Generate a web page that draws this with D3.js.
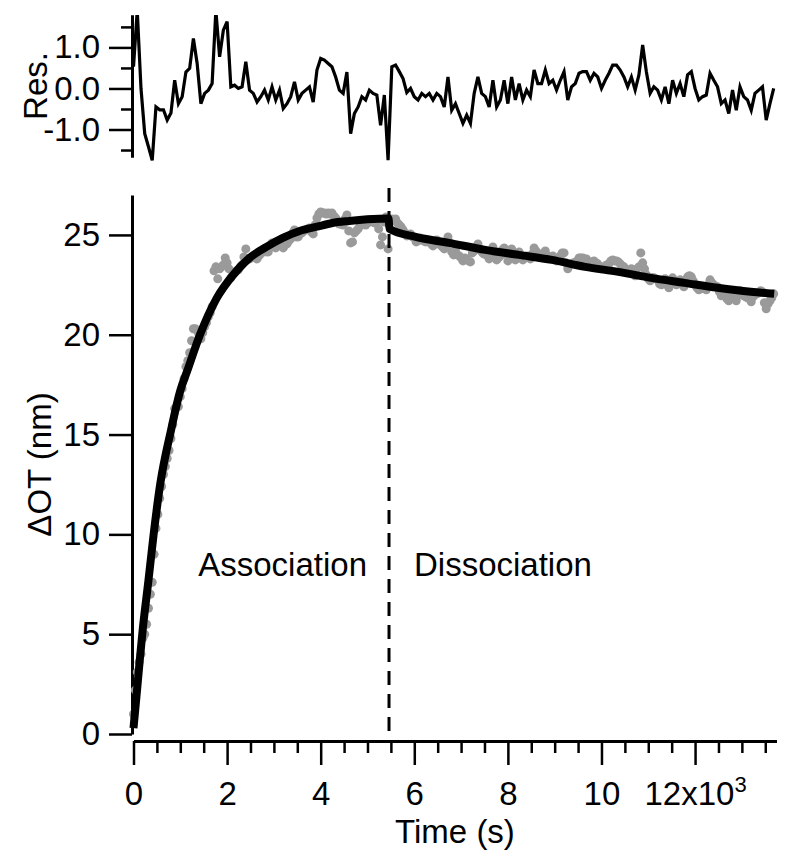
<!DOCTYPE html>
<html>
<head>
<meta charset="utf-8">
<script src="https://cdn.jsdelivr.net/npm/d3@7"></script>
<style>
body { margin: 0; background: #fff; }
svg text { font-family: "Liberation Sans", Arial, Helvetica, sans-serif; fill: #000; }
</style>
</head>
<body>
<div id="chart"></div>
<script>
// measured optical thickness, one point every dataStep seconds
var dataStep = 40;
var dataNm = [
  1.0, 2.2, 3.1, 3.6, 4.0, 4.8, 5.0, 5.5, 6.3, 7.0,            // 0
  7.6, 9.0, 10.3, 11.0, 11.8, 12.4, 13.0, 13.4, 13.8, 14.2,    // 400
  14.8, 15.5, 16.3, 16.4, 16.4, 16.9, 17.3, 17.8, 18.4, 18.7,  // 800
  19.1, 19.7, 20.3, 20.3, 20.2, 20.0, 19.8, 20.1, 20.4, 20.6,  // 1200
  20.9, 21.1, 21.4, 23.2, 23.4, 22.8, 23.3, 23.4, 23.5, 23.85, // 1600
  23.6, 23.3, 22.85, 23.0, 23.1, 23.2, 23.25, 23.4, 23.5, 23.9, // 2000
  24.3, 23.8, 23.8, 23.85, 23.9, 23.85, 23.8, 23.95, 24.05, 24.2, // 2400
  24.3, 24.15, 24.15, 24.45, 24.6, 24.4, 24.35, 24.6, 24.7, 24.5, // 2800
  24.35, 24.5, 24.55, 24.7, 24.8, 25.1, 25.25, 24.9, 24.9, 25.05, // 3200
  25.1, 25.2, 25.25, 25.3, 25.35, 25.15, 25.05, 25.5, 25.85, 26.05, // 3600
  26.15, 26.1, 26.1, 26.05, 26.1, 26.05, 26.1, 25.95, 25.85, 25.7, // 4000
  25.55, 25.55, 25.5, 25.8, 26.0, 25.2, 24.6, 24.65, 25.1, 25.2,   // 4400
  25.3, 25.45, 25.55, 25.55, 25.5, 25.6, 25.75, 25.75, 25.65, 25.6, // 4800
  25.65, 25.3, 24.5, 24.9, 25.65, 25.9, 24.3, 25.7, 25.8, 25.75,   // 5200
  25.8, 25.6, 25.5, 25.4, 25.25, 25.1, 24.95, 25.0, 25.05, 24.9,   // 5600
  24.85, 24.65, 24.7, 24.85, 24.75, 24.7, 24.65, 24.75, 24.7, 24.55, // 6000
  24.45, 24.6, 24.75, 24.55, 24.5, 24.4, 24.3, 24.45, 24.9, 24.6,  // 6400
  24.15, 24.0, 24.25, 24.0, 23.95, 23.85, 23.7, 23.85, 23.8, 23.7, // 6800
  23.65, 24.1, 24.2, 24.4, 24.55, 24.3, 24.15, 24.05, 24.05, 23.95, // 7200
  23.8, 24.1, 24.4, 24.05, 23.75, 23.85, 23.95, 24.25, 24.35, 24.05, // 7600
  23.7, 23.95, 24.3, 24.1, 23.75, 23.9, 24.15, 24.0, 23.75, 23.85,  // 8000
  23.95, 23.9, 23.8, 24.05, 24.35, 24.2, 23.95, 23.9, 23.95, 24.1,  // 8400
  24.2, 23.95, 23.85, 23.9, 23.95, 23.8, 23.7, 23.85, 23.95, 24.1,  // 8800
  24.1, 23.6, 23.3, 23.5, 23.55, 23.6, 23.6, 23.7, 23.85, 23.85,    // 9200
  23.85, 23.8, 23.8, 23.6, 23.55, 23.65, 23.7, 23.6, 23.55, 23.4,   // 9600
  23.3, 23.35, 23.45, 23.5, 23.55, 23.7, 23.75, 23.7, 23.7, 23.65,  // 10000
  23.55, 23.45, 23.4, 23.2, 23.1, 23.25, 23.3, 23.1, 22.95, 23.3,   // 10400
  23.4, 24.1, 23.6, 23.3, 23.0, 22.8, 22.7, 22.85, 22.85, 22.8,     // 10800
  22.75, 22.55, 22.5, 22.7, 22.8, 22.5, 22.35, 22.6, 22.85, 22.6,   // 11200
  22.5, 22.65, 22.75, 22.55, 22.4, 22.75, 22.9, 22.95, 22.9, 22.7,  // 11600
  22.5, 22.35, 22.25, 22.3, 22.35, 22.3, 22.25, 22.5, 22.75, 22.6,  // 12000
  22.5, 22.4, 22.4, 22.15, 21.95, 22.05, 22.05, 21.8, 21.7, 22.0,   // 12400
  22.2, 21.8, 21.7, 22.0, 22.2, 22.05, 21.95, 21.9, 21.85, 21.8,    // 12800
  21.65, 21.9, 22.0, 22.05, 22.1, 22.2, 22.15, 21.6, 21.3, 21.55,   // 13200
  21.7, 21.85, 22.05                                                 // 13600
];

// residuals of the fit, one every resStep seconds
var resStep = 80;
var residuals = [
  0.53, 1.9, 0.0, -1.1, -1.42, -1.75, -0.45, -0.52, -0.52, -0.77,   // 0
  -0.6, 0.2, -0.37, -0.2, 0.4, 0.49, 1.22, 0.61, -0.37, -0.12,      // 800
  -0.04, 0.12, 1.9, 0.77, 1.42, 1.63, 0.04, 0.08, 0.0, 0.04,        // 1600
  0.65, -0.04, -0.12, -0.33, -0.2, -0.04, -0.28, 0.04, -0.28, -0.04, // 2400
  -0.49, -0.37, -0.2, 0.16, -0.28, -0.12, -0.04, 0.04, -0.33, 0.45, // 3200
  0.73, 0.69, 0.61, 0.53, 0.28, -0.04, -0.12, 0.4, -1.1, -0.61,     // 4000
  -0.45, -0.2, -0.28, -0.04, -0.12, -0.16, -0.9, -0.16, -1.75, 0.53, // 4800
  0.57, 0.41, 0.24, -0.1, 0.0, -0.2, -0.28, -0.12, -0.2, -0.12,     // 5600
  -0.28, -0.12, -0.2, -0.45, 0.28, -0.53, -0.37, -0.61, -0.85, -0.65, // 6400
  -0.85, -0.12, 0.28, -0.12, -0.2, -0.45, 0.2, -0.45, -0.28, 0.2,   // 7200
  -0.37, 0.28, -0.28, 0.12, -0.28, -0.04, -0.2, 0.45, 0.12, 0.12,   // 8000
  0.45, 0.12, 0.2, -0.04, 0.2, 0.41, -0.28, 0.04, 0.12, 0.37,       // 8800
  0.41, 0.41, 0.2, 0.37, 0.28, 0.0, 0.2, 0.37, 0.57, 0.57,          // 9600
  0.45, 0.28, 0.04, 0.28, -0.04, 0.33, 1.06, 0.4, -0.12, 0.04,      // 10400
  -0.04, -0.28, 0.04, -0.37, 0.2, -0.12, 0.12, -0.2, 0.33, 0.41,    // 11200
  0.0, -0.28, -0.2, -0.16, 0.37, 0.2, 0.04, -0.37, -0.28, -0.61,    // 12000
  -0.04, -0.53, 0.04, -0.2, -0.28, -0.53, -0.12, -0.04, 0.04, -0.77, // 12800
  -0.37, 0.0                                                         // 13600
];

// fitted curve
var fitTimes = [0, 60, 130, 200, 320, 430, 570, 800, 1000, 1150,
  1420, 1770, 2130, 2480, 2840, 3190, 3550, 3900, 4250, 4610,
  5000, 5450, 5470, 6030, 6740, 7520, 8230, 8940, 9650, 10360,
  11060, 11770, 12480, 13190, 13690];
var fitNm = [0.3, 1.8, 3.6, 5.3, 7.7, 10.0, 12.5, 15.2, 17.2, 18.2,
  20.0, 21.8, 23.0, 23.85, 24.4, 24.85, 25.2, 25.4, 25.6, 25.7,
  25.78, 25.82, 25.3, 24.9, 24.6, 24.25, 24.0, 23.75, 23.4, 23.15,
  22.85, 22.6, 22.35, 22.15, 22.05];

var switchTime = 5460;
var phaseNames = ["Association", "Dissociation"];

var xTicks = [0, 2000, 4000, 6000, 8000, 10000, 12000];
var xTickLabels = ["0", "2", "4", "6", "8", "10", "12x10"];
var yTicks = [0, 5, 10, 15, 20, 25];
var resTicks = [-1, 0, 1];
var resTickLabels = ["-1.0", "0.0", "1.0"];

var width = 800, height = 866;
var fontSize = 33;

var svg = d3.select("#chart").append("svg")
  .attr("width", width)
  .attr("height", height);

svg.append("rect").attr("width", width).attr("height", height).attr("fill", "#fff");

var xScale = d3.scaleLinear().domain([0, 13740]).range([133.5, 776.5]);
var yScale = d3.scaleLinear().domain([0, 27]).range([734, 195]);
var rScale = d3.scaleLinear().domain([-1.67, 1.79]).range([157, 15]);

var axisLeftX = 132;
var xAxisY = 741;

function styleAxis(g) {
  g.select(".domain").attr("stroke", "#000").attr("stroke-width", 3);
  g.selectAll(".tick line").attr("stroke", "#000").attr("stroke-width", 2.5);
  g.selectAll(".tick text").attr("font-size", fontSize).attr("fill", "#000")
    .attr("font-family", '"Liberation Sans", Arial, sans-serif');
}

// ---- residual panel ----
svg.append("clipPath").attr("id", "resClip")
  .append("rect").attr("x", 110).attr("y", rScale.range()[1])
  .attr("width", 680).attr("height", 150);

var resAxis = svg.append("g")
  .attr("transform", "translate(" + axisLeftX + ",0)")
  .call(d3.axisLeft(rScale).tickValues(resTicks).tickSize(23).tickPadding(9).tickSizeOuter(0)
    .tickFormat(function(d, i) { return resTickLabels[i]; }));
styleAxis(resAxis);

var resMinor = svg.append("g")
  .attr("transform", "translate(" + axisLeftX + ",0)")
  .call(d3.axisLeft(rScale).tickValues([-1.5, -0.5, 0.5, 1.5]).tickSize(11).tickFormat("").tickSizeOuter(0));
styleAxis(resMinor);

var resLine = d3.line()
  .x(function(d, i) { return xScale(i * resStep); })
  .y(function(d) { return rScale(d); });

svg.append("path")
  .datum(residuals)
  .attr("clip-path", "url(#resClip)")
  .attr("fill", "none")
  .attr("stroke", "#000")
  .attr("stroke-width", 3.2)
  .attr("d", resLine);

svg.append("text")
  .attr("transform", "translate(47," + ((rScale.range()[0] + rScale.range()[1]) / 2) + ") rotate(-90)")
  .attr("text-anchor", "middle")
  .attr("font-size", fontSize)
  .text("Res.");

// ---- main panel ----
var yAxisG = svg.append("g")
  .attr("transform", "translate(" + axisLeftX + ",0)")
  .call(d3.axisLeft(yScale).tickValues(yTicks).tickSize(23).tickPadding(9).tickSizeOuter(0));
styleAxis(yAxisG);

var xAxisG = svg.append("g")
  .attr("transform", "translate(0," + xAxisY + ")")
  .call(d3.axisBottom(xScale).tickValues(xTicks).tickSize(24).tickPadding(17).tickSizeOuter(0)
    .tickFormat(function(d, i) { return xTickLabels[i]; }));
styleAxis(xAxisG);

xAxisG.selectAll(".tick text").filter(function(d) { return d === 12000; })
  .append("tspan").attr("dy", "-0.62em").attr("font-size", 22).text("3");

var minorX = d3.range(500, 13740, 500).filter(function(d) { return d % 2000 !== 0; });
var xMinorG = svg.append("g")
  .attr("transform", "translate(0," + xAxisY + ")")
  .call(d3.axisBottom(xScale).tickValues(minorX).tickSize(12).tickFormat("").tickSizeOuter(0));
styleAxis(xMinorG);
xMinorG.select(".domain").remove();

// data points
svg.append("g")
  .selectAll("circle")
  .data(dataNm)
  .enter().append("circle")
  .attr("cx", function(d, i) { return xScale(i * dataStep); })
  .attr("cy", function(d) { return yScale(d); })
  .attr("r", 4.5)
  .attr("fill", "#9a9a9a");

// fit
var fitLine = d3.line()
  .x(function(d) { return xScale(d[0]); })
  .y(function(d) { return yScale(d[1]); })
  .curve(d3.curveMonotoneX);

svg.append("path")
  .datum(d3.zip(fitTimes, fitNm))
  .attr("fill", "none")
  .attr("stroke", "#000")
  .attr("stroke-width", 8)
  .attr("d", fitLine);

// association / dissociation boundary
svg.append("line")
  .attr("x1", xScale(switchTime)).attr("x2", xScale(switchTime))
  .attr("y1", yScale.range()[1] - 7).attr("y2", xAxisY)
  .attr("stroke", "#000")
  .attr("stroke-width", 3)
  .attr("stroke-dasharray", "14,9");

var phaseY = yScale(7.9);
svg.append("text")
  .attr("x", xScale(switchTime) - 22).attr("y", phaseY)
  .attr("text-anchor", "end")
  .attr("font-size", fontSize)
  .text(phaseNames[0]);
svg.append("text")
  .attr("x", xScale(switchTime) + 25).attr("y", phaseY)
  .attr("text-anchor", "start")
  .attr("font-size", fontSize)
  .text(phaseNames[1]);

// axis titles
svg.append("text")
  .attr("transform", "translate(51," + ((yScale.range()[0] + yScale.range()[1]) / 2) + ") rotate(-90)")
  .attr("text-anchor", "middle")
  .attr("font-size", fontSize)
  .text("\u0394OT (nm)");

svg.append("text")
  .attr("x", (xScale.range()[0] + xScale.range()[1]) / 2)
  .attr("y", 843)
  .attr("text-anchor", "middle")
  .attr("font-size", fontSize)
  .text("Time (s)");
</script>
</body>
</html>
